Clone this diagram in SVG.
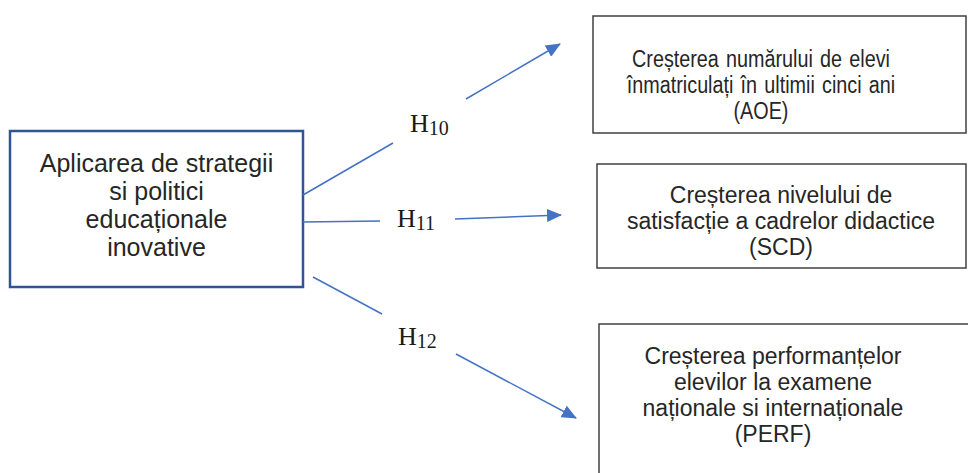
<svg xmlns="http://www.w3.org/2000/svg" width="968" height="473" viewBox="0 0 968 473">
<style>
.box{fill:#fff;stroke:#404040;stroke-width:1.5}
.src{fill:#fff;stroke:#2F5597;stroke-width:2.5}
.t{font-family:"Liberation Sans",Arial,sans-serif;fill:#262626;text-anchor:middle}
.h{font-family:"Liberation Serif","Times New Roman",serif;fill:#1a1a1a}
.ln{stroke:#4472C4;stroke-width:1.5;fill:none}
</style>
<defs>
<marker id="ah" markerUnits="userSpaceOnUse" markerWidth="15" markerHeight="13" refX="14" refY="6.5" orient="auto">
<path d="M0,0 L15,6.5 L0,13 Z" fill="#4472C4"/>
</marker>
</defs>
<rect width="968" height="473" fill="#fff"/>
<g id="src">
<rect class="src" x="10" y="131" width="293" height="156"/>
<text class="t" font-size="25" x="156.5"><tspan x="156.5" y="172">Aplicarea de strategii</tspan><tspan x="156.5" y="200">si politici</tspan><tspan x="156.5" y="228">educaționale</tspan><tspan x="156.5" y="256">inovative</tspan></text>
</g>
<g id="aoe">
<rect class="box" x="593" y="16" width="373" height="117"/>
<text class="t" font-size="23" word-spacing="2" transform="translate(761,0) scale(0.86,1)"><tspan x="0" y="67">Creșterea numărului de elevi</tspan><tspan x="0" y="93">înmatriculați în ultimii cinci ani</tspan><tspan x="0" y="119">(AOE)</tspan></text>
</g>
<g id="scd">
<rect class="box" x="597" y="164" width="369" height="104"/>
<text class="t" font-size="23" x="781"><tspan x="781" y="203">Creșterea nivelului de</tspan><tspan x="781" y="229">satisfacție a cadrelor didactice</tspan><tspan x="781" y="255">(SCD)</tspan></text>
</g>
<g id="perf">
<rect class="box" x="599" y="324" width="376" height="160"/>
<text class="t" font-size="23" x="773"><tspan x="773" y="364">Creșterea performanțelor</tspan><tspan x="773" y="390">elevilor la examene</tspan><tspan x="773" y="416">naționale si internaționale</tspan><tspan x="773" y="442">(PERF)</tspan></text>
</g>
<g id="connectors">
<line class="ln" x1="303" y1="195" x2="393" y2="143"/>
<line class="ln" x1="466" y1="99" x2="560" y2="44" marker-end="url(#ah)"/>
<line class="ln" x1="303" y1="222" x2="380" y2="221"/>
<line class="ln" x1="455" y1="219" x2="561" y2="215" marker-end="url(#ah)"/>
<line class="ln" x1="313" y1="277" x2="382" y2="314"/>
<line class="ln" x1="456" y1="354" x2="576" y2="418" marker-end="url(#ah)"/>
<text class="h" font-size="26" x="410" y="132">H<tspan font-size="20" dy="3">10</tspan></text>
<text class="h" font-size="26" x="397" y="227">H<tspan font-size="20" dy="3">11</tspan></text>
<text class="h" font-size="26" x="398" y="345">H<tspan font-size="20" dy="3">12</tspan></text>
</g>
</svg>
